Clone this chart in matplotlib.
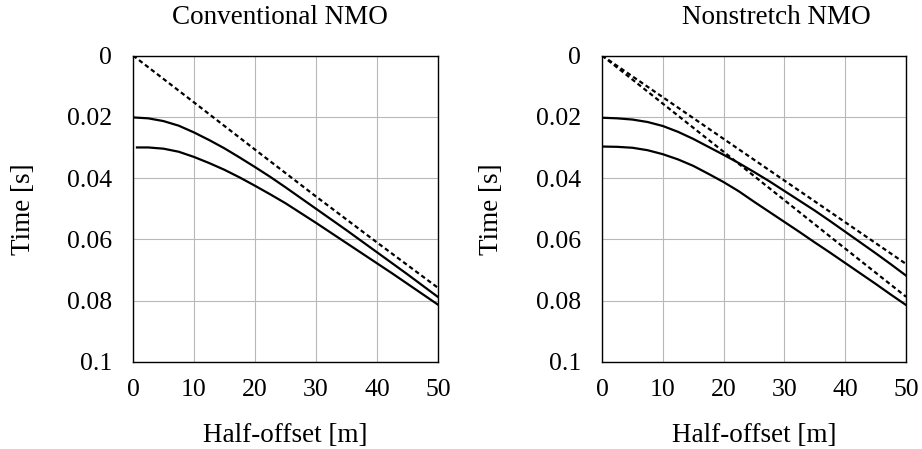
import matplotlib
matplotlib.use("Agg")
import matplotlib.pyplot as plt

plt.rcParams['font.family'] = ['Liberation Serif', 'DejaVu Serif']

# ---- data ----
# Conventional NMO
conv_x_upper = [0, 2.5, 5, 7.5, 10, 12.5, 15, 17.5, 20, 22.5, 25,
                27.5, 30, 32.5, 35, 37.5, 40, 42.5, 45, 47.5, 50]
conv_t_upper = [0.0202, 0.0205, 0.0214, 0.0229, 0.0251, 0.0276, 0.0303, 0.0333, 0.0364, 0.0396, 0.0430,
                0.0465, 0.0500, 0.0535, 0.0570, 0.0606, 0.0642, 0.0678, 0.0714, 0.0751, 0.0788]
conv_x_lower = [0.65, 2.5, 5, 7.5, 10, 12.5, 15, 17.5, 20, 22.5, 25,
                27.5, 30, 32.5, 35, 37.5, 40, 42.5, 45, 47.5, 50]
conv_t_lower = [0.0300, 0.0300, 0.0304, 0.0314, 0.0331, 0.0351, 0.0373, 0.0398, 0.0425, 0.0453, 0.0482,
                0.0514, 0.0546, 0.0579, 0.0612, 0.0645, 0.0678, 0.0711, 0.0745, 0.0779, 0.0813]
conv_x_dash = [0, 10, 20, 30, 40, 50]
conv_t_dash = [0.0, 0.0153, 0.0307, 0.0460, 0.0610, 0.0758]

# Nonstretch NMO
ns_x_upper = [0, 2.5, 5, 7.5, 10, 12.5, 15, 17.5, 20, 22.5, 25,
              27.5, 30, 32.5, 35, 37.5, 40, 42.5, 45, 47.5, 50]
ns_t_upper = [0.0203, 0.0205, 0.0209, 0.0217, 0.0230, 0.0249, 0.0272, 0.0298, 0.0324, 0.0351, 0.0380,
              0.0410, 0.0442, 0.0474, 0.0506, 0.0540, 0.0575, 0.0610, 0.0645, 0.0681, 0.0718]
ns_x_lower = [0, 2.5, 5, 7.5, 10, 12.5, 15, 17.5, 20, 22.5, 25,
              27.5, 30, 32.5, 35, 37.5, 40, 42.5, 45, 47.5, 50]
ns_t_lower = [0.0297, 0.0298, 0.0301, 0.0309, 0.0322, 0.0339, 0.0360, 0.0386, 0.0413, 0.0443, 0.0477,
              0.0510, 0.0543, 0.0576, 0.0610, 0.0643, 0.0677, 0.0711, 0.0745, 0.0780, 0.0814]
ns_x_dash = [0, 10, 20, 30, 40, 50]
ns_t_dash_upper = [0.0, 0.0136, 0.0272, 0.0408, 0.0544, 0.0680]
ns_t_dash_lower = [0.0, 0.0157, 0.0314, 0.0472, 0.0630, 0.0787]

x_ticks = [0, 10, 20, 30, 40, 50]
y_ticks = [0, 0.02, 0.04, 0.06, 0.08, 0.1]
y_tick_labels = ["0", "0.02", "0.04", "0.06", "0.08", "0.1"]

titles = ["Conventional NMO", "Nonstretch NMO"]
xlabel = "Half-offset [m]"
ylabel = "Time [s]"

W, H = 922, 449
fig = plt.figure(figsize=(W / 100, H / 100), dpi=100)

bottom = 1 - 362 / H
height = (362 - 55.5) / H
ax1 = fig.add_axes([133 / W, bottom, 305 / W, height])
ax2 = fig.add_axes([602 / W, bottom, 304 / W, height])

lw = 1.6
dash = (2.0, 1.4)

ax1.plot(conv_x_dash, conv_t_dash, color='black', lw=lw, linestyle=(0, dash))
ax1.plot(conv_x_upper, conv_t_upper, color='black', lw=lw)
ax1.plot(conv_x_lower, conv_t_lower, color='black', lw=lw)

ax2.plot(ns_x_dash, ns_t_dash_upper, color='black', lw=lw, linestyle=(0, dash))
ax2.plot(ns_x_dash, ns_t_dash_lower, color='black', lw=lw, linestyle=(0, dash))
ax2.plot(ns_x_upper, ns_t_upper, color='black', lw=lw)
ax2.plot(ns_x_lower, ns_t_lower, color='black', lw=lw)

for ax, ylab_x in ((ax1, -0.318), (ax2, -0.322)):
    ax.set_xlim(0, 50)
    ax.set_ylim(0.1, 0)
    ax.set_xticks(x_ticks)
    ax.set_yticks(y_ticks)
    ax.set_yticklabels(y_tick_labels)
    ax.grid(True, color='#b8b8b8', lw=0.8)
    ax.set_axisbelow(True)
    ax.tick_params(axis='both', length=0, labelsize=18.5, colors='black')
    ax.tick_params(axis='y', pad=15)
    ax.tick_params(axis='x', pad=12)
    for s in ax.spines.values():
        s.set_color('black')
        s.set_linewidth(1.0)
    ax.set_xlabel(xlabel, fontsize=19.5, labelpad=16)
    ax.set_ylabel(ylabel, fontsize=19.5)
    ax.yaxis.set_label_coords(ylab_x, 0.5)

fig.text(280 / W, 1 - 24 / H, titles[0], fontsize=19.5, ha='center', va='baseline')
fig.text(776 / W, 1 - 24 / H, titles[1], fontsize=19.5, ha='center', va='baseline')

fig.savefig("out.png", dpi=100)
